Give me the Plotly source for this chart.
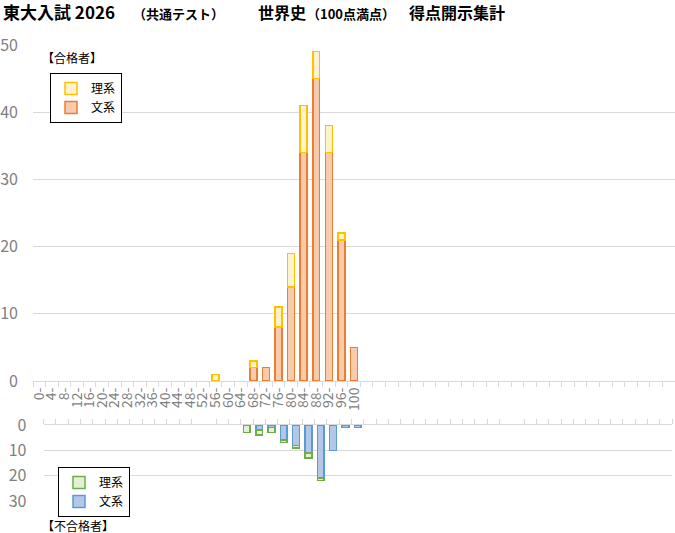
import plotly.graph_objects as go

# score bins (4 point steps) and labels on the category axis
scores = [0, 4, 8, 12, 16, 20, 24, 28, 32, 36, 40, 44, 48, 52, 56, 60, 64, 68, 72, 76, 80, 84, 88, 92, 96, 100]
labels = [str(s) + "-" for s in scores[:-1]] + ["100"]

# 合格者
pass_bun = [0, 0, 0, 0, 0, 0, 0, 0, 0, 0, 0, 0, 0, 0, 0, 0, 0, 2, 2, 8, 14, 34, 45, 34, 21, 5]
pass_ri = [0, 0, 0, 0, 0, 0, 0, 0, 0, 0, 0, 0, 0, 0, 1, 0, 0, 1, 0, 3, 5, 7, 4, 4, 1, 0]

# 不合格者
fail_bun = [0, 0, 0, 0, 0, 0, 0, 0, 0, 0, 0, 0, 0, 0, 0, 0, 0, 2, 1, 6, 8, 11, 21, 10, 1, 1]
fail_ri = [0, 0, 0, 0, 0, 0, 0, 0, 0, 0, 0, 0, 0, 0, 0, 0, 3, 2, 2, 1, 1, 2, 1, 0, 0, 0]

FONT = "Noto Sans CJK JP"
GRAY = "#7f7f7f"
GRID = "#d9d9d9"
W, H = 675, 533
ML = 33

def px_x(p):
    return (p - ML) / (W - ML)

def px_y(p):
    return 1 - p / H

def nz(vals):
    # empty bins get no bar (otherwise a flat outline is drawn on the axis)
    return [v if v else None for v in vals]

fig = go.Figure()
bw = 2.2
fig.add_trace(go.Bar(x=scores, y=nz(pass_bun), name="文系", width=bw,
                     marker=dict(color="#f8cbad", line=dict(color="#ed7d31", width=1.5)),
                     xaxis="x", yaxis="y", legend="legend"))
fig.add_trace(go.Bar(x=scores, y=nz(pass_ri), name="理系", width=bw,
                     marker=dict(color="#fff2cc", line=dict(color="#ffc000", width=1.5)),
                     xaxis="x", yaxis="y", legend="legend"))
fig.add_trace(go.Bar(x=scores, y=nz(fail_bun), name="文系", width=bw,
                     marker=dict(color="#b4c7e7", line=dict(color="#5b9bd5", width=1.5)),
                     xaxis="x2", yaxis="y2", legend="legend2"))
fig.add_trace(go.Bar(x=scores, y=nz(fail_ri), name="理系", width=bw,
                     marker=dict(color="#e2f0d9", line=dict(color="#70ad47", width=1.5)),
                     xaxis="x2", yaxis="y2", legend="legend2"))

minor_ticks = dict(tickmode="linear", tick0=-2, dtick=4, ticks="outside", ticklen=5,
                   tickcolor=GRID, showgrid=False)

fig.update_layout(
    width=W, height=H,
    barmode="stack",
    plot_bgcolor="white",
    paper_bgcolor="white",
    font=dict(family=FONT, color="black", size=12),
    margin=dict(l=ML, r=0, t=0, b=0, autoexpand=False),
    xaxis=dict(domain=[0, 1], range=[-2, 202], anchor="y", automargin=False,
               tickmode="array", tickvals=scores, ticktext=labels, tickangle=-90,
               ticks="", showline=True, linecolor=GRID, showgrid=False, zeroline=False,
               tickfont=dict(family=FONT, size=14, color=GRAY), minor=minor_ticks),
    yaxis=dict(domain=[px_y(381), px_y(45)], range=[0, 50], anchor="x", automargin=False,
               dtick=10, showgrid=True, gridcolor=GRID, zeroline=False,
               ticklabelstandoff=14,
               tickfont=dict(family=FONT, size=16, color=GRAY)),
    xaxis2=dict(domain=[px_x(43.5), px_x(672)], range=[-2, 202], anchor="y2", side="top",
                automargin=False,
                showticklabels=False, ticks="", showline=True, linecolor=GRID,
                showgrid=False, zeroline=False, minor=minor_ticks),
    yaxis2=dict(domain=[px_y(501), px_y(425)], range=[30, 0], anchor="x2", automargin=False,
                dtick=10, showgrid=True, gridcolor=GRID, zeroline=False,
                ticklabelstandoff=16,
                tickfont=dict(family=FONT, size=16, color=GRAY)),
    legend=dict(x=px_x(50), y=px_y(73), xanchor="left", yanchor="top",
                bordercolor="black", borderwidth=1, bgcolor="white",
                traceorder="reversed", font=dict(size=12), itemwidth=30),
    legend2=dict(x=px_x(58), y=px_y(467), xanchor="left", yanchor="top",
                 bordercolor="black", borderwidth=1, bgcolor="white",
                 traceorder="reversed", font=dict(size=12), itemwidth=30),
    showlegend=True,
)

def note(text, px, py, size):
    fig.add_annotation(text=text, x=px_x(px), y=px_y(py), xref="paper", yref="paper",
                       xanchor="left", yanchor="middle", showarrow=False,
                       font=dict(family=FONT, size=size, color="black"))

# title pieces
note("<b>東大入試 2026</b>", 1, 12, 17)
note("<b>（共通テスト）</b>", 131, 13, 13)
note("<b>世界史</b>", 256, 12, 16)
note("<b>（100点満点）</b>", 305, 13, 13)
note("<b>得点開示集計</b>", 407, 12, 16)

note("【合格者】", 40, 57, 12)
note("【不合格者】", 40, 525, 12)

fig.write_html("out.html", config={"displayModeBar": False},
               post_script="document.body.style.margin='0';document.body.style.overflow='hidden';")
